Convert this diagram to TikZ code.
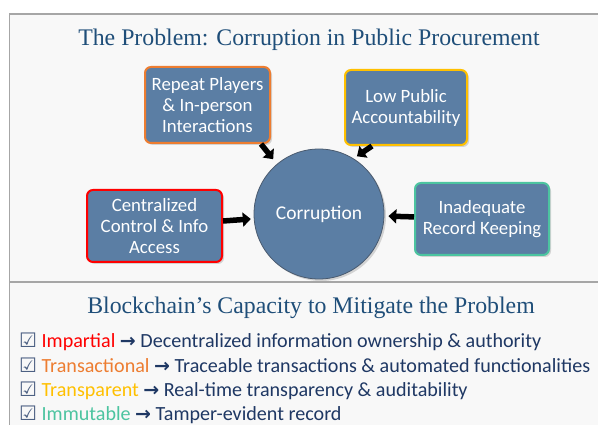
\documentclass[tikz,border=0pt]{standalone}
\usepackage{fontspec}
\setmainfont{Carlito}
\newfontfamily\titlefont{Liberation Serif}
\newfontfamily\symfont{DejaVu Sans}
\usetikzlibrary{arrows.meta,shadows,positioning}
\definecolor{boxblue}{HTML}{5B7EA4}
\definecolor{ringgray}{HTML}{4A5A6E}
\definecolor{titleblue}{HTML}{1F4E79}
\definecolor{navy}{HTML}{1F3864}
\definecolor{panel}{HTML}{F8F8F8}
\definecolor{framegray}{HTML}{A6A6A6}
\definecolor{cred}{HTML}{FF0000}
\definecolor{corange}{HTML}{ED7D31}
\definecolor{cgold}{HTML}{FFC000}
\definecolor{cteal}{HTML}{4CC4A0}
\tikzset{>=latex,
  cause/.style={draw,line width=2pt,rounded corners=6pt,fill=boxblue,text=white,align=center,
    font=\fontsize{18.8}{21}\selectfont,inner sep=2pt,
    drop shadow={opacity=0.3,shadow xshift=2pt,shadow yshift=-2pt}},
  push/.style={line width=5.5pt,-{Triangle[width=14pt,length=8pt]}},
  ptitle/.style={text=titleblue,font=\titlefont\fontsize{23.8}{27}\selectfont},
  item/.style={anchor=base west,text=navy,inner sep=0pt,font=\fontsize{20.1}{24}\selectfont}
}
\newcommand{\chk}{{\symfont\color{navy!80}\fontsize{20}{24}\selectfont ☑}}
\newcommand{\arr}{{\symfont\bfseries\fontsize{19}{24}\selectfont →}}

\begin{document}
\begin{tikzpicture}[x=1pt,y=-1pt]
\useasboundingbox (0,0) rectangle (598,425);
\fill[white] (0,0) rectangle (598,425);
\fill[panel] (9.5,14) rectangle (598,425);
\draw[framegray,line width=1.5pt] (598,14) -- (9.5,14) -- (9.5,425);
\draw[framegray,line width=1.5pt] (9.5,282) -- (598,282);

\node[ptitle] (top) at (309,40) {The Problem: Corruption in Public Procurement};
\node[cause,draw=corange,minimum width=125pt,minimum height=76pt] (rp) at (207.5,105) {Repeat Players\\\& In-person\\Interactions};
\node[cause,draw=cgold,minimum width=122pt,minimum height=75pt] (lpa) at (406,107.5) {Low Public\\Accountability};
\node[cause,draw=cred,minimum width=135pt,minimum height=72pt] (cca) at (154.5,226) {Centralized\\Control \& Info\\Access};
\node[cause,draw=cteal,minimum width=134pt,minimum height=72pt] (irk) at (482,219) {Inadequate\\Record Keeping};
\node[circle,draw=ringgray,line width=0.8pt,fill=boxblue,text=white,minimum size=130pt,
  font=\fontsize{19.5}{22}\selectfont,drop shadow={opacity=0.3,shadow xshift=2pt,shadow yshift=-2pt}] (cor) at (319,214) {Corruption};

\draw[push,shorten >=6pt] ([xshift=-10pt]rp.south east) -- (cor.130);
\draw[push,shorten >=4pt] ([xshift=28pt]lpa.south west) -- (cor.58);
\draw[push,shorten >=3pt] (cca) -- (cor);
\draw[push,shorten >=4pt] (irk) -- (cor);

\node[ptitle] (bottom) at (311,308) {Blockchain’s Capacity to Mitigate the Problem};
\node[item] (l1) at (19,348) {\chk\ \textcolor{cred}{Impartial} \arr\ Decentralized information ownership \& authority};
\node[item] (l2) at (19,372) {\chk\ \textcolor{corange}{Transactional} \arr\ Traceable transactions \& automated functionalities};
\node[item] (l3) at (19,396) {\chk\ \textcolor{cgold}{Transparent} \arr\ Real-time transparency \& auditability};
\node[item] (l4) at (19,420) {\chk\ \textcolor{cteal}{Immutable} \arr\ Tamper-evident record};
\end{tikzpicture}
\end{document}
